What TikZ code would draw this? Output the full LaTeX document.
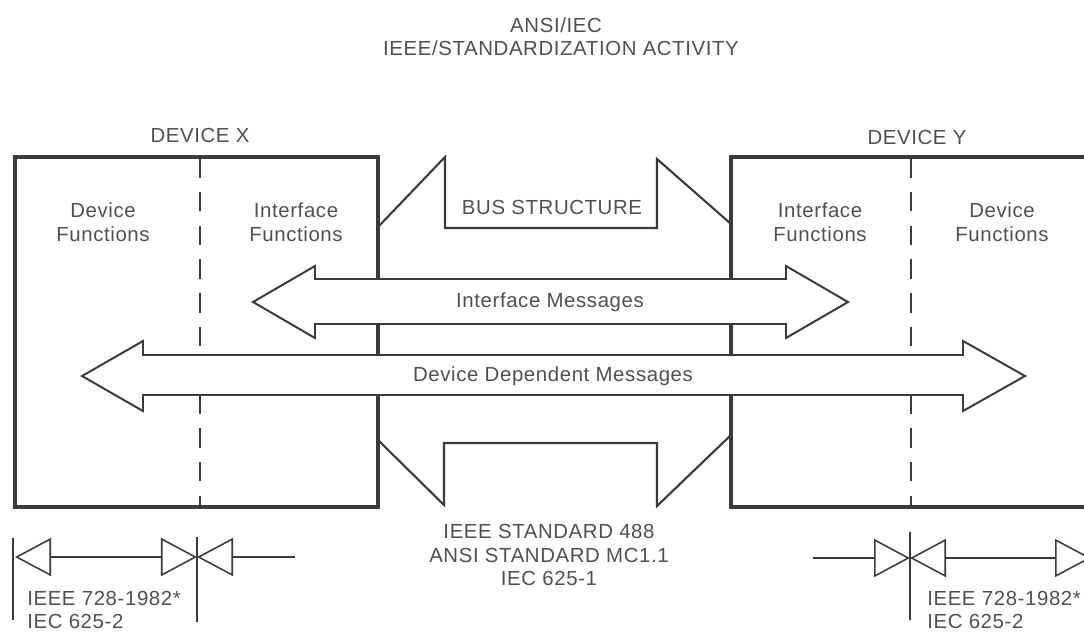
\documentclass[tikz,border=0pt]{standalone}
\usepackage{fontspec}
\setmainfont{Liberation Sans}[LetterSpace=3]
\usetikzlibrary{arrows.meta}
\definecolor{ink}{HTML}{3A3A3A}
\definecolor{txt}{HTML}{505050}
\begin{document}
\begin{tikzpicture}[x=0.025cm, y=-0.025cm,
  every node/.style={text=txt, font=\fontsize{14.5}{17}\selectfont, align=center, inner sep=0pt},
  boxline/.style={draw=ink, line width=2.2pt},
  busline/.style={draw=ink, line width=1.5pt},
  msgarrow/.style={draw=ink, fill=white, line width=1.4pt, line join=miter},
  divider/.style={draw=ink, line width=1.2pt, dash pattern=on 14pt off 10pt},
  dimline/.style={draw=ink, line width=1.1pt},
  dimtip/.tip={Triangle[open, length=0.9cm, width=0.95cm, line join=miter]}]
\clip (0,0) rectangle (1084,634);
% titles
\node (ansi) at (556,25) {ANSI/IEC};
\node (act) at (561,48) {IEEE/STANDARDIZATION ACTIVITY};
\node (devx) at (200,135) {DEVICE X};
\node (devy) at (917,137) {DEVICE Y};
% dividers inside the devices
\draw[divider] (200,158) -- (200,506);
\draw[divider] (911,158) -- (911,506);
% devices
\draw[boxline] (15,157) rectangle (378,507);
\draw[boxline] (731,157) rectangle (1095,507);
\node (dfx) at (103,222) {Device\\Functions};
\node (ifx) at (296,222) {Interface\\Functions};
\node (ify) at (820,222) {Interface\\Functions};
\node (dfy) at (1002,222) {Device\\Functions};
% bus structure
\draw[busline] (378,227) -- (445,157) -- (445,228) -- (657,228) -- (657,159) -- (731,224);
\draw[busline] (378,440) -- (444,505) -- (444,443) -- (657,443) -- (657,506) -- (731,435);
\node (bus) at (552,207) {BUS STRUCTURE};
% messages
\draw[msgarrow] (253,302) -- (315,266) -- (315,279) -- (786,279) -- (786,266) -- (848,302)
  -- (786,338) -- (786,324) -- (315,324) -- (315,338) -- cycle;
\node (imsg) at (550,302) {Interface Messages};
\draw[msgarrow] (82,376) -- (143,341) -- (143,355) -- (963,355) -- (963,341) -- (1025,376)
  -- (963,411) -- (963,395) -- (143,395) -- (143,411) -- cycle;
\node (dmsg) at (553,376) {Device Dependent Messages};
% standards
\node (std) at (549,555) {IEEE STANDARD 488\\ANSI STANDARD MC1.1\\IEC 625-1};
\coordinate (xa) at (15,557);
\coordinate (xb) at (197,557);
\coordinate (xc) at (295,557);
\draw[dimline] (13,538) -- (13,620);
\draw[dimline] (197,537) -- (197,622);
\draw[dimline, dimtip-dimtip] (xa) -- (xb);
\draw[dimline, -dimtip] (xc) -- (xb);
\node[anchor=west, align=left] (stdx) at (27,610) {IEEE 728-1982*\\IEC 625-2};
\coordinate (ya) at (813,558);
\coordinate (yb) at (910,558);
\coordinate (yc) at (1091,558);
\draw[dimline] (910,532) -- (910,620);
\draw[dimline, -dimtip] (ya) -- (yb);
\draw[dimline, dimtip-dimtip] (yb) -- (yc);
\node[anchor=west, align=left] (stdy) at (927,610) {IEEE 728-1982*\\IEC 625-2};
\end{tikzpicture}
\end{document}
